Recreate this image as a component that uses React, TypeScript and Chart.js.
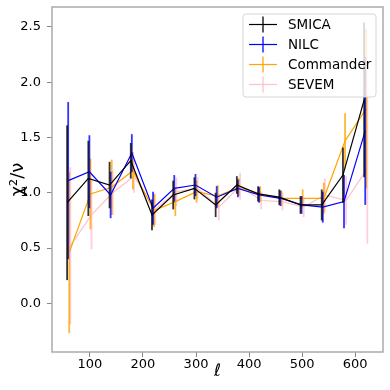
import React, { useEffect, useRef } from "react";
import { Chart, registerables } from "chart.js";

Chart.register(...registerables);

const ellCenters = [57, 97, 137, 177, 217, 257, 297, 337, 377, 417, 457, 497, 537, 577, 617];
const seriesNames = ["SMICA", "NILC", "Commander", "SEVEM"];
const seriesColors = ["#000000", "#0000ff", "#ffa500", "#ffc0cb"];
const ellShift = [0, 2, 4, 6];

const smica = [0.91, 1.13, 1.07, 1.29, 0.80, 0.98, 1.04, 0.89, 1.07, 0.99, 0.96, 0.89, 0.89, 1.16, 1.84];
const smicaErr = [0.70, 0.34, 0.21, 0.16, 0.14, 0.13, 0.10, 0.11, 0.08, 0.07, 0.07, 0.08, 0.14, 0.25, 0.70];
const nilc = [1.11, 1.19, 0.98, 1.36, 0.86, 1.04, 1.07, 0.96, 1.04, 0.98, 0.95, 0.89, 0.87, 0.92, 1.56];
const nilcErr = [0.71, 0.33, 0.21, 0.17, 0.15, 0.12, 0.10, 0.10, 0.08, 0.07, 0.07, 0.08, 0.14, 0.24, 0.67];
const commander = [0.46, 0.99, 1.05, 1.20, 0.84, 0.92, 1.01, 0.97, 1.05, 0.99, 0.95, 0.95, 0.95, 1.47, 1.76];
const commanderErr = [0.73, 0.32, 0.25, 0.17, 0.15, 0.13, 0.10, 0.10, 0.08, 0.07, 0.07, 0.08, 0.14, 0.25, 0.72];
const sevem = [0.52, 0.80, 1.00, 1.15, 0.85, 1.01, 1.04, 0.87, 1.06, 0.93, 0.92, 0.87, 0.98, 0.93, 1.22];
const sevemErr = [0.71, 0.31, 0.20, 0.15, 0.14, 0.13, 0.10, 0.12, 0.12, 0.08, 0.08, 0.09, 0.15, 0.22, 0.68];

const xTicks = [100, 200, 300, 400, 500, 600];
const yTicks = [0, 0.5, 1.0, 1.5, 2.0, 2.5];
const xLimits = [28.5, 652.5];
const yLimits = [-0.44, 2.68];

const seriesValues = [smica, nilc, commander, sevem];
const seriesErrors = [smicaErr, nilcErr, commanderErr, sevemErr];

const FONT = "'DejaVu Sans', sans-serif";

function withAlpha(hex: string, a: number) {
  const r = parseInt(hex.slice(1, 3), 16);
  const g = parseInt(hex.slice(3, 5), 16);
  const b = parseInt(hex.slice(5, 7), 16);
  return `rgba(${r},${g},${b},${a})`;
}

const errorBarPlugin = {
  id: "errorBars",
  afterDatasetDraw(chart: any, args: any) {
    const i = args.index;
    const errs = seriesErrors[i];
    const vals = seriesValues[i];
    const xs = chart.scales.x;
    const ys = chart.scales.y;
    const ctx = chart.ctx;
    ctx.save();
    const ca = chart.chartArea;
    ctx.beginPath();
    ctx.rect(ca.left, ca.top, ca.right - ca.left, ca.bottom - ca.top);
    ctx.clip();
    ctx.strokeStyle = withAlpha(seriesColors[i], 0.8);
    ctx.lineWidth = 1.8;
    vals.forEach((v, k) => {
      const px = xs.getPixelForValue(ellCenters[k] + ellShift[i]);
      const y1 = ys.getPixelForValue(v - errs[k]);
      const y2 = ys.getPixelForValue(v + errs[k]);
      ctx.beginPath();
      ctx.moveTo(px, y1);
      ctx.lineTo(px, y2);
      ctx.stroke();
    });
    ctx.restore();
  },
};

const framePlugin = {
  id: "frameAndLegend",
  afterDraw(chart: any) {
    const ctx = chart.ctx;
    const ca = chart.chartArea;
    ctx.save();
    ctx.strokeStyle = "#aaaaaa";
    ctx.lineWidth = 1.5;
    ctx.strokeRect(ca.left, ca.top, ca.right - ca.left, ca.bottom - ca.top);

    // legend
    const boxRight = ca.right - 7;
    const boxTop = ca.top + 7;
    const boxW = 133;
    const boxH = 83;
    const boxLeft = boxRight - boxW;
    const r = 3;
    ctx.beginPath();
    ctx.moveTo(boxLeft + r, boxTop);
    ctx.lineTo(boxRight - r, boxTop);
    ctx.arcTo(boxRight, boxTop, boxRight, boxTop + r, r);
    ctx.lineTo(boxRight, boxTop + boxH - r);
    ctx.arcTo(boxRight, boxTop + boxH, boxRight - r, boxTop + boxH, r);
    ctx.lineTo(boxLeft + r, boxTop + boxH);
    ctx.arcTo(boxLeft, boxTop + boxH, boxLeft, boxTop + boxH - r, r);
    ctx.lineTo(boxLeft, boxTop + r);
    ctx.arcTo(boxLeft, boxTop, boxLeft + r, boxTop, r);
    ctx.closePath();
    ctx.fillStyle = "rgba(255,255,255,0.8)";
    ctx.fill();
    ctx.strokeStyle = "#d6d6d6";
    ctx.lineWidth = 1;
    ctx.stroke();

    ctx.font = `13.5px ${FONT}`;
    ctx.textBaseline = "middle";
    ctx.textAlign = "left";
    seriesNames.forEach((name, i) => {
      const yc = boxTop + 10.5 + i * 20;
      const x0 = boxLeft + 6;
      const x1 = x0 + 28;
      ctx.strokeStyle = seriesColors[i];
      ctx.lineWidth = 1.2;
      ctx.beginPath();
      ctx.moveTo(x0, yc);
      ctx.lineTo(x1, yc);
      ctx.stroke();
      ctx.strokeStyle = withAlpha(seriesColors[i], 0.8);
      ctx.lineWidth = 1.6;
      ctx.beginPath();
      ctx.moveTo((x0 + x1) / 2, yc - 8);
      ctx.lineTo((x0 + x1) / 2, yc + 8);
      ctx.stroke();
      ctx.fillStyle = "#000";
      ctx.fillText(name, boxLeft + 45, yc + 1);
    });
    ctx.restore();
  },
};

export default function App() {
  const ref = useRef<HTMLCanvasElement>(null);
  useEffect(() => {
    if (!ref.current) return;
    const chart = new Chart(ref.current, {
      type: "line",
      data: {
        datasets: seriesNames.map((name, i) => ({
          label: name,
          data: seriesValues[i].map((v, k) => ({ x: ellCenters[k] + ellShift[i], y: v })),
          borderColor: seriesColors[i],
          backgroundColor: seriesColors[i],
          borderWidth: 1.2,
          pointRadius: 0,
          tension: 0,
          fill: false,
        })),
      },
      options: {
        animation: false,
        responsive: false,
        maintainAspectRatio: false,
        layout: { padding: { top: 7, right: 7, left: 0, bottom: 0 } },
        plugins: { legend: { display: false }, tooltip: { enabled: false } },
        scales: {
          x: {
            type: "linear",
            min: xLimits[0],
            max: xLimits[1],
            afterFit: (s: any) => { s.height = 38; s.paddingLeft = 0; s.paddingRight = 0; },
            afterBuildTicks: (s: any) => { s.ticks = xTicks.map((v) => ({ value: v })); },
            grid: { drawOnChartArea: false, drawTicks: true, tickLength: 5, color: "#888" },
            border: { display: false },
            ticks: { font: { family: FONT, size: 13 }, color: "#000", padding: 0, maxRotation: 0, callback: (v: any) => String(v) },
            title: { display: true, text: "ℓ", font: { family: FONT, size: 17, style: "italic" }, color: "#000", padding: 8 },
          },
          y: {
            type: "linear",
            min: yLimits[0],
            max: yLimits[1],
            afterFit: (s: any) => { s.width = 52; s.paddingTop = 0; s.paddingBottom = 0; },
            afterBuildTicks: (s: any) => { s.ticks = yTicks.map((v) => ({ value: v })); },
            grid: { drawOnChartArea: false, drawTicks: true, tickLength: 5, color: "#888" },
            border: { display: false },
            ticks: { font: { family: FONT, size: 13 }, color: "#000", padding: 6, callback: (v: any) => Number(v).toFixed(1) },
            title: { display: true, text: "χ²/ν", font: { family: FONT, size: 18 }, color: "#000", padding: 8 },
          },
        },
      },
      plugins: [errorBarPlugin, framePlugin],
    } as any);
    return () => chart.destroy();
  }, []);
  return (
    <div style={{ position: "fixed", left: 0, top: 0, width: 390, height: 390, background: "#fff" }}>
      <canvas ref={ref} width={390} height={390} />
    </div>
  );
}
